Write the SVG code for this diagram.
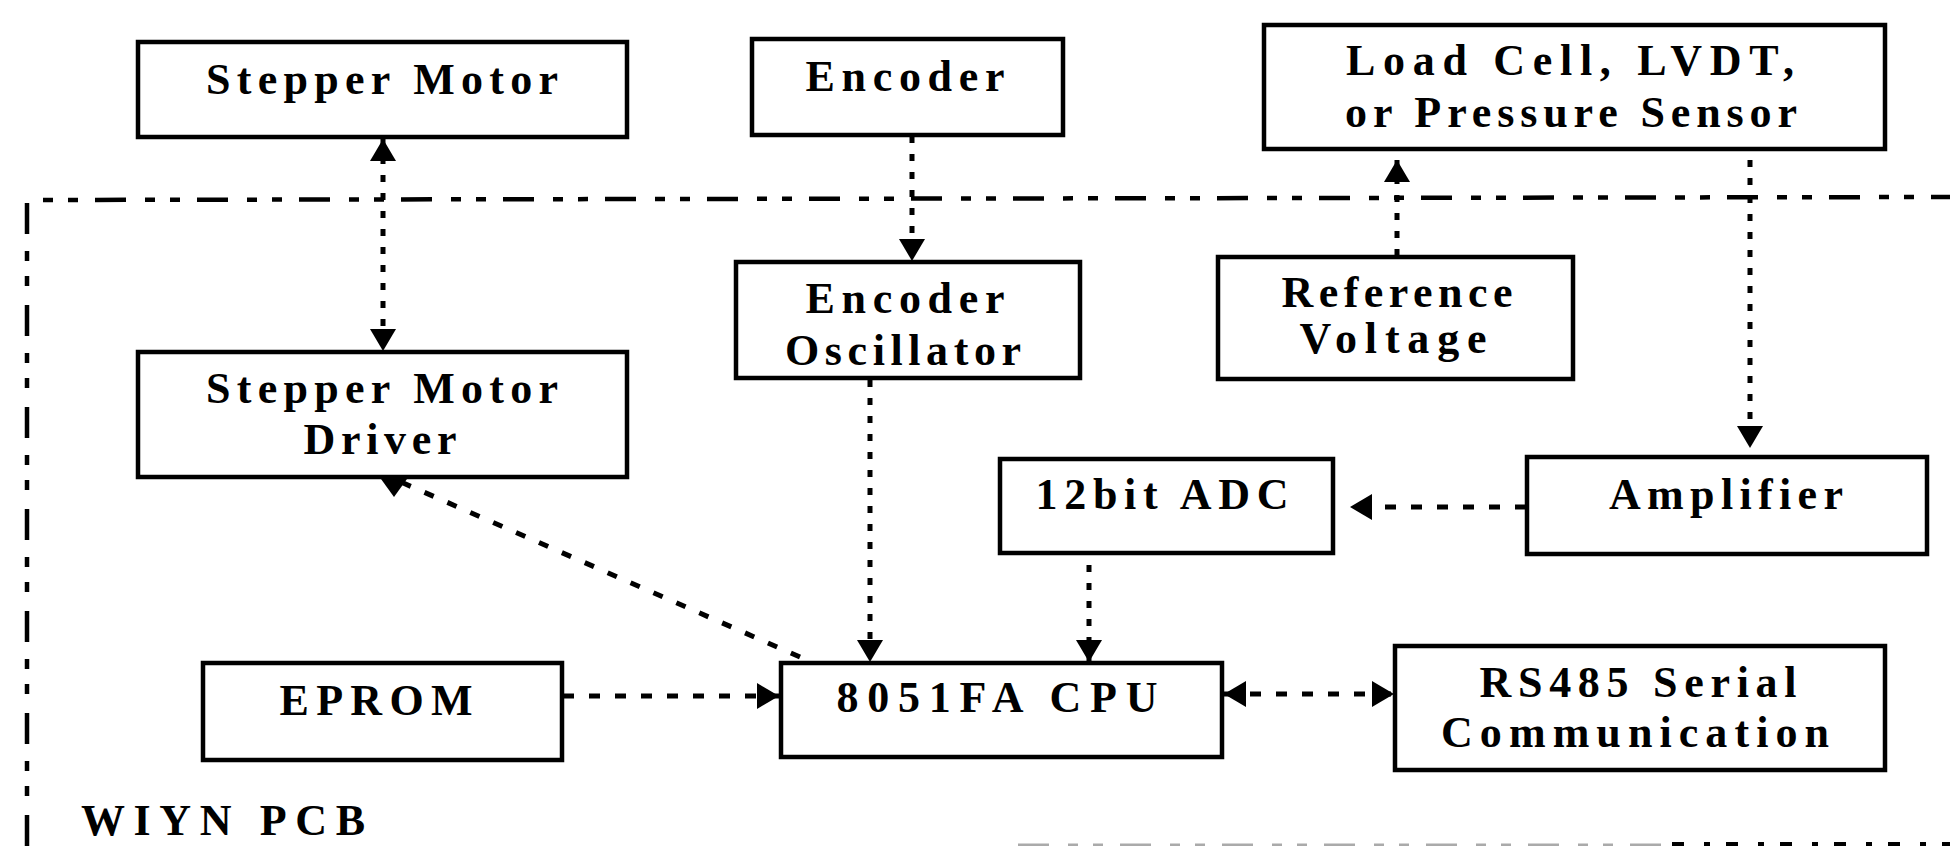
<svg xmlns="http://www.w3.org/2000/svg" width="1950" height="846" viewBox="0 0 1950 846">
  <defs>
    <style>
      .box{fill:#fff;stroke:#000;stroke-width:4.5}
      .lbl{font-family:"Liberation Serif","Times New Roman",serif;font-size:44px;font-weight:bold;fill:#000;text-anchor:middle}
      .start{text-anchor:start}
      .v{fill:none;stroke:#000;stroke-width:5;stroke-dasharray:7 11}
      .h{fill:none;stroke:#000;stroke-width:5;stroke-dasharray:11 15}
      .d{fill:none;stroke:#000;stroke-width:5;stroke-dasharray:10 15}
      .border{fill:none;stroke:#000;stroke-width:4.5;stroke-dasharray:31 19 10 15 10 17}
    </style>
    <marker id="ah" viewBox="0 0 22 26" refX="22" refY="13" markerWidth="22" markerHeight="26" markerUnits="userSpaceOnUse" orient="auto-start-reverse">
      <path d="M0,0 L22,13 L0,26 Z" fill="#000"/>
    </marker>
    <marker id="ahDown" viewBox="0 0 18 26" refX="0" refY="13" markerWidth="18" markerHeight="26" markerUnits="userSpaceOnUse" orient="90">
      <path d="M0,0 L18,13 L0,26 Z" fill="#000"/>
    </marker>
  </defs>

  <rect width="1950" height="846" fill="#fff"/>

  <!-- PCB outline (dash-dot) -->
  <g id="pcb-outline">
    <path class="border" d="M27,846 L27,200 L1950,197"/>
    <line x1="1018" y1="845" x2="1670" y2="845" stroke="#aaa" stroke-width="3" stroke-dasharray="31 19 10 15 10 17"/>
    <line x1="1672" y1="844" x2="1950" y2="844" stroke="#000" stroke-width="4" stroke-dasharray="12 20 6 16"/>
  </g>

  <!-- connectors -->
  <g id="connectors">
    <line class="v" x1="383" y1="139" x2="383" y2="351" marker-start="url(#ah)" marker-end="url(#ah)"/>
    <line class="v" x1="912" y1="136" x2="912" y2="261" marker-end="url(#ah)"/>
    <line class="v" x1="1397" y1="256" x2="1397" y2="160" marker-end="url(#ah)"/>
    <line class="v" x1="1750" y1="160" x2="1750" y2="448" marker-end="url(#ah)"/>
    <line class="v" x1="870" y1="380" x2="870" y2="662" marker-end="url(#ah)"/>
    <line class="v" x1="1089" y1="565" x2="1089" y2="662" marker-end="url(#ah)"/>
    <line class="h" x1="1526" y1="507" x2="1350" y2="507" marker-end="url(#ah)"/>
    <line class="h" x1="563" y1="696" x2="779" y2="696" marker-end="url(#ah)"/>
    <line class="h" x1="1224" y1="694" x2="1394" y2="694" marker-start="url(#ah)" marker-end="url(#ah)"/>
    <line class="d" x1="800" y1="657" x2="394" y2="479" marker-end="url(#ahDown)"/>
  </g>

  <!-- outside the PCB -->
  <g id="stepper-motor">
    <rect class="box" x="138" y="42" width="489" height="95"/>
    <text class="lbl" x="382" y="94" textLength="352" lengthAdjust="spacing">Stepper Motor</text>
  </g>
  <g id="encoder">
    <rect class="box" x="752" y="39" width="311" height="96"/>
    <text class="lbl" x="905" y="91" textLength="199" lengthAdjust="spacing">Encoder</text>
  </g>
  <g id="sensor">
    <rect class="box" x="1264" y="25" width="621" height="124"/>
    <text class="lbl" x="1570" y="75" textLength="448" lengthAdjust="spacing">Load Cell, LVDT,</text>
    <text class="lbl" x="1571" y="127" textLength="452" lengthAdjust="spacing">or Pressure Sensor</text>
  </g>

  <!-- on the PCB -->
  <g id="encoder-oscillator">
    <rect class="box" x="736" y="262" width="344" height="116"/>
    <text class="lbl" x="905" y="313" textLength="199" lengthAdjust="spacing">Encoder</text>
    <text class="lbl" x="903" y="365" textLength="236" lengthAdjust="spacing">Oscillator</text>
  </g>
  <g id="reference-voltage">
    <rect class="box" x="1218" y="257" width="355" height="122"/>
    <text class="lbl" x="1397" y="307" textLength="231" lengthAdjust="spacing">Reference</text>
    <text class="lbl" x="1393" y="353" textLength="187" lengthAdjust="spacing">Voltage</text>
  </g>
  <g id="stepper-driver">
    <rect class="box" x="138" y="352" width="489" height="125"/>
    <text class="lbl" x="382" y="403" textLength="352" lengthAdjust="spacing">Stepper Motor</text>
    <text class="lbl" x="380" y="454" textLength="153" lengthAdjust="spacing">Driver</text>
  </g>
  <g id="adc">
    <rect class="box" x="1000" y="459" width="333" height="94"/>
    <text class="lbl" x="1162" y="509" textLength="253" lengthAdjust="spacing">12bit ADC</text>
  </g>
  <g id="amplifier">
    <rect class="box" x="1527" y="457" width="400" height="97"/>
    <text class="lbl" x="1726" y="509" textLength="234" lengthAdjust="spacing">Amplifier</text>
  </g>
  <g id="eprom">
    <rect class="box" x="203" y="663" width="359" height="97"/>
    <text class="lbl" x="376" y="715" textLength="193" lengthAdjust="spacing">EPROM</text>
  </g>
  <g id="cpu">
    <rect class="box" x="781" y="663" width="441" height="94"/>
    <text class="lbl" x="997" y="712" textLength="321" lengthAdjust="spacing">8051FA CPU</text>
  </g>
  <g id="rs485">
    <rect class="box" x="1395" y="646" width="490" height="124"/>
    <text class="lbl" x="1638" y="697" textLength="317" lengthAdjust="spacing">RS485 Serial</text>
    <text class="lbl" x="1635" y="747" textLength="388" lengthAdjust="spacing">Communication</text>
  </g>

  <g id="pcb-label">
    <text class="lbl start" x="81" y="835" textLength="284" lengthAdjust="spacing">WIYN PCB</text>
  </g>
</svg>
